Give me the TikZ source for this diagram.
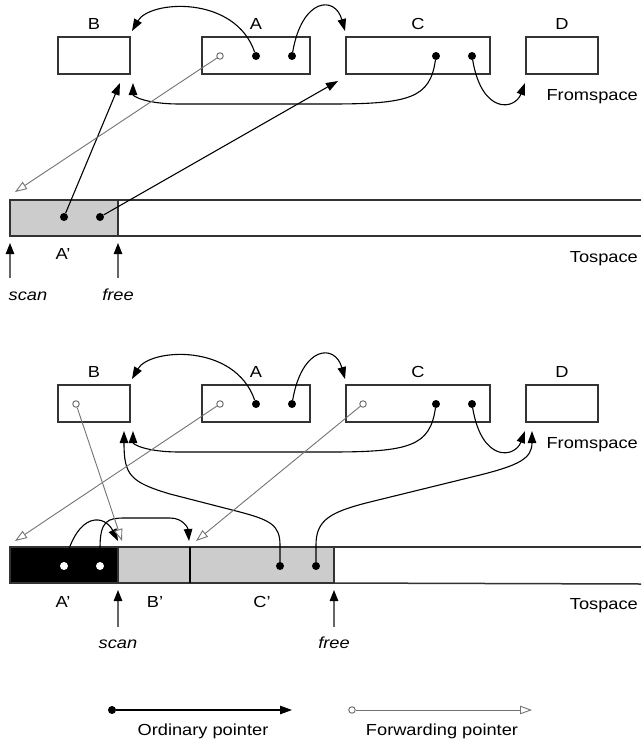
\documentclass[tikz,border=0pt]{standalone}
\usepackage{fontspec}
\setmainfont{Liberation Sans}[FakeStretch=1.14]
\usetikzlibrary{arrows.meta}
\tikzset{
  obj/.style={draw=black!80, line width=1.6pt, minimum width=#1, minimum height=37pt, inner sep=0pt, outer sep=0pt, anchor=north west},
  lbl/.style={font=\fontsize{16}{19}\selectfont, inner sep=0pt},
  ptr/.style={draw=black, line width=1.1pt, -{Triangle[length=12pt,width=8.5pt]}},
  fwd/.style={draw=black!55, line width=0.9pt, -{Triangle[open,length=12pt,width=8.5pt,fill=white]}},
  fdot/.style={circle, fill=black, minimum size=8pt, inner sep=0pt},
  hdot/.style={circle, draw=black!60, fill=white, line width=0.9pt, minimum size=6.5pt, inner sep=0pt},
  wdot/.style={circle, fill=white, minimum size=8pt, inner sep=0pt},
  bandline/.style={draw=black!80, line width=1.5pt},
  cell/.style={draw=black!80, line width=1.5pt, minimum height=36pt, inner sep=0pt, outer sep=0pt, anchor=north west},
  ptrmarker/.style={draw=black!60, line width=1.1pt, -{Triangle[length=11pt,width=8.5pt,color=black]}}
}
\begin{document}
\begin{tikzpicture}[x=1pt,y=-1pt]
\useasboundingbox (0,0) rectangle (641,740);

% ================= TOP PANEL =================
\node[obj=72pt]  (B1) at (58,37) {};
\node[obj=108pt] (A1) at (202,37) {};
\node[obj=144pt] (C1) at (346,37) {};
\node[obj=72pt]  (D1) at (526,37) {};
\node[lbl, anchor=base] (tB1) at (94,29) {B};
\node[lbl, anchor=base] (tA1) at (256,29) {A};
\node[lbl, anchor=base] (tC1) at (418,29) {C};
\node[lbl, anchor=base] (tD1) at (562,29) {D};
\node[lbl, anchor=base east] (fs1) at (638,100) {Fromspace};

\node[hdot] (a0) at (220,56) {};
\node[fdot] (a1) at (256,56) {};
\node[fdot] (a2) at (292,56) {};
\node[fdot] (c1) at (436,56) {};
\node[fdot] (c2) at (472,56) {};

% tospace top
\node[cell, fill=black!20, minimum width=108pt] (Ap1) at (10,200) {};
\coordinate (T1a) at (641,200);
\coordinate (T1b) at (641,236);
\draw[bandline] (Ap1.north east) -- (T1a);
\draw[bandline] (Ap1.south east) -- (T1b);
\node[fdot] (p1) at (64,217) {};
\node[fdot] (p2) at (100,217) {};
\node[lbl, anchor=base] (tAp1) at (63,259) {A’};
\node[lbl, anchor=base east] (ts1) at (638,262) {Tospace};

% targets
\coordinate (B1tr) at (132,31);
\coordinate (C1tl) at (345,31);
\coordinate (B1br) at (133,83);
\coordinate (B1bm) at (120,83);
\coordinate (C1bl) at (338,81);
\coordinate (D1bl) at (525,83);
\coordinate (fw1) at (15,192);

\draw[ptr] (a1) .. controls (235,-5) and (150,0) .. (B1tr);
\draw[ptr] (a2) .. controls (302,-2) and (335,-5) .. (C1tl);
\draw[ptr] (c1) .. controls (430,98) and (410,104) .. (330,104) -- (180,104) .. controls (145,104) and (133,96) .. (B1br);
\draw[ptr] (c2) .. controls (482,115) and (515,110) .. (D1bl);
\draw[ptr] (p1) -- (B1bm);
\draw[ptr] (p2) -- (C1bl);
\draw[fwd] (a0) -- (fw1);

% scan / free
\coordinate (s1b) at (10,278); \coordinate (s1t) at (10,243);
\coordinate (f1b) at (118,278); \coordinate (f1t) at (118,243);
\draw[ptrmarker] (s1b) -- (s1t);
\draw[ptrmarker] (f1b) -- (f1t);
\node[lbl, anchor=base] (tsc1) at (28,300) {\itshape scan};
\node[lbl, anchor=base] (tfr1) at (118,300) {\itshape free};

% ================= BOTTOM PANEL =================
\node[obj=72pt]  (B2) at (58,385) {};
\node[obj=108pt] (A2) at (202,385) {};
\node[obj=144pt] (C2) at (346,385) {};
\node[obj=72pt]  (D2) at (526,385) {};
\node[lbl, anchor=base] (tB2) at (94,377) {B};
\node[lbl, anchor=base] (tA2) at (256,377) {A};
\node[lbl, anchor=base] (tC2) at (418,377) {C};
\node[lbl, anchor=base] (tD2) at (562,377) {D};
\node[lbl, anchor=base east] (fs2) at (638,448) {Fromspace};

\node[hdot] (b0) at (76,404) {};
\node[hdot] (e0) at (220,404) {};
\node[fdot] (e1) at (256,404) {};
\node[fdot] (e2) at (292,404) {};
\node[hdot] (g0) at (363,404) {};
\node[fdot] (g1) at (436,404) {};
\node[fdot] (g2) at (472,404) {};

% tospace bottom
\node[cell, fill=black, minimum width=108pt] (Ap2) at (10,547) {};
\node[cell, fill=black!20, minimum width=72pt] (Bp2) at (118,547) {};
\node[cell, fill=black!20, minimum width=144pt] (Cp2) at (190,547) {};
\draw[draw=black, line width=2.2pt] (Cp2.north west) -- (Cp2.south west);
\coordinate (T2a) at (641,547);
\coordinate (T2b) at (641,584);
\draw[bandline] (Cp2.north east) -- (T2a);
\draw[bandline] (Cp2.south east) -- (T2b);
\node[wdot] (q1) at (64,566) {};
\node[wdot] (q2) at (100,566) {};
\node[fdot] (r1) at (280,566) {};
\node[fdot] (r2) at (316,566) {};
\node[lbl, anchor=base] (tAp2) at (63,607) {A’};
\node[lbl, anchor=base] (tBp2) at (155,607) {B’};
\node[lbl, anchor=base] (tCp2) at (262,607) {C’};
\node[lbl, anchor=base east] (ts2) at (638,609) {Tospace};

% targets
\coordinate (B2tr) at (132,379);
\coordinate (C2tl) at (345,379);
\coordinate (B2br) at (133,431);
\coordinate (B2bm) at (124,431);
\coordinate (D2bl) at (525,431);
\coordinate (D2bm) at (532,431);
\coordinate (Bp2t) at (118,541);
\coordinate (Cp2t) at (189,541);
\coordinate (fwB) at (122,541);
\coordinate (fwA) at (15,541);
\coordinate (fwC) at (196,541);

\draw[ptr] (e1) .. controls (235,343) and (150,348) .. (B2tr);
\draw[ptr] (e2) .. controls (302,346) and (335,343) .. (C2tl);
\draw[ptr] (g1) .. controls (430,446) and (410,452) .. (330,452) -- (180,452) .. controls (145,452) and (133,444) .. (B2br);
\draw[ptr] (g2) .. controls (482,463) and (515,458) .. (D2bl);

\draw[ptr] (r1) -- (280,545) .. controls (280,525) and (270,520) .. (240,512) -- (170,494) .. controls (130,482) and (124,475) .. (B2bm);
\draw[ptr] (r2) -- (316,545) .. controls (316,520) and (330,512) .. (370,502) -- (480,475) .. controls (520,465) and (532,458) .. (D2bm);
\draw[ptr] (q1) .. controls (78,510) and (105,515) .. (Bp2t);
\draw[ptr] (q2) -- (100,548) .. controls (100,520) and (108,518) .. (125,518) -- (170,518) .. controls (183,518) and (188,528) .. (Cp2t);

\draw[fwd] (b0) -- (fwB);
\draw[fwd] (e0) -- (fwA);
\draw[fwd] (g0) -- (fwC);

% scan / free
\coordinate (s2b) at (118,627); \coordinate (s2t) at (118,590);
\coordinate (f2b) at (334,627); \coordinate (f2t) at (334,590);
\draw[ptrmarker] (s2b) -- (s2t);
\draw[ptrmarker] (f2b) -- (f2t);
\node[lbl, anchor=base] (tsc2) at (118,648) {\itshape scan};
\node[lbl, anchor=base] (tfr2) at (334,648) {\itshape free};

% ================= LEGEND =================
\node[fdot] (l1) at (112,710) {};
\coordinate (l1e) at (292,710);
\draw[ptr] (l1) -- (l1e);
\node[lbl, anchor=base] (tl1) at (203,735) {Ordinary pointer};
\node[hdot] (l2) at (352,710) {};
\coordinate (l2e) at (532,710);
\draw[fwd] (l2) -- (l2e);
\node[lbl, anchor=base] (tl2) at (442,735) {Forwarding pointer};
\end{tikzpicture}
\end{document}
